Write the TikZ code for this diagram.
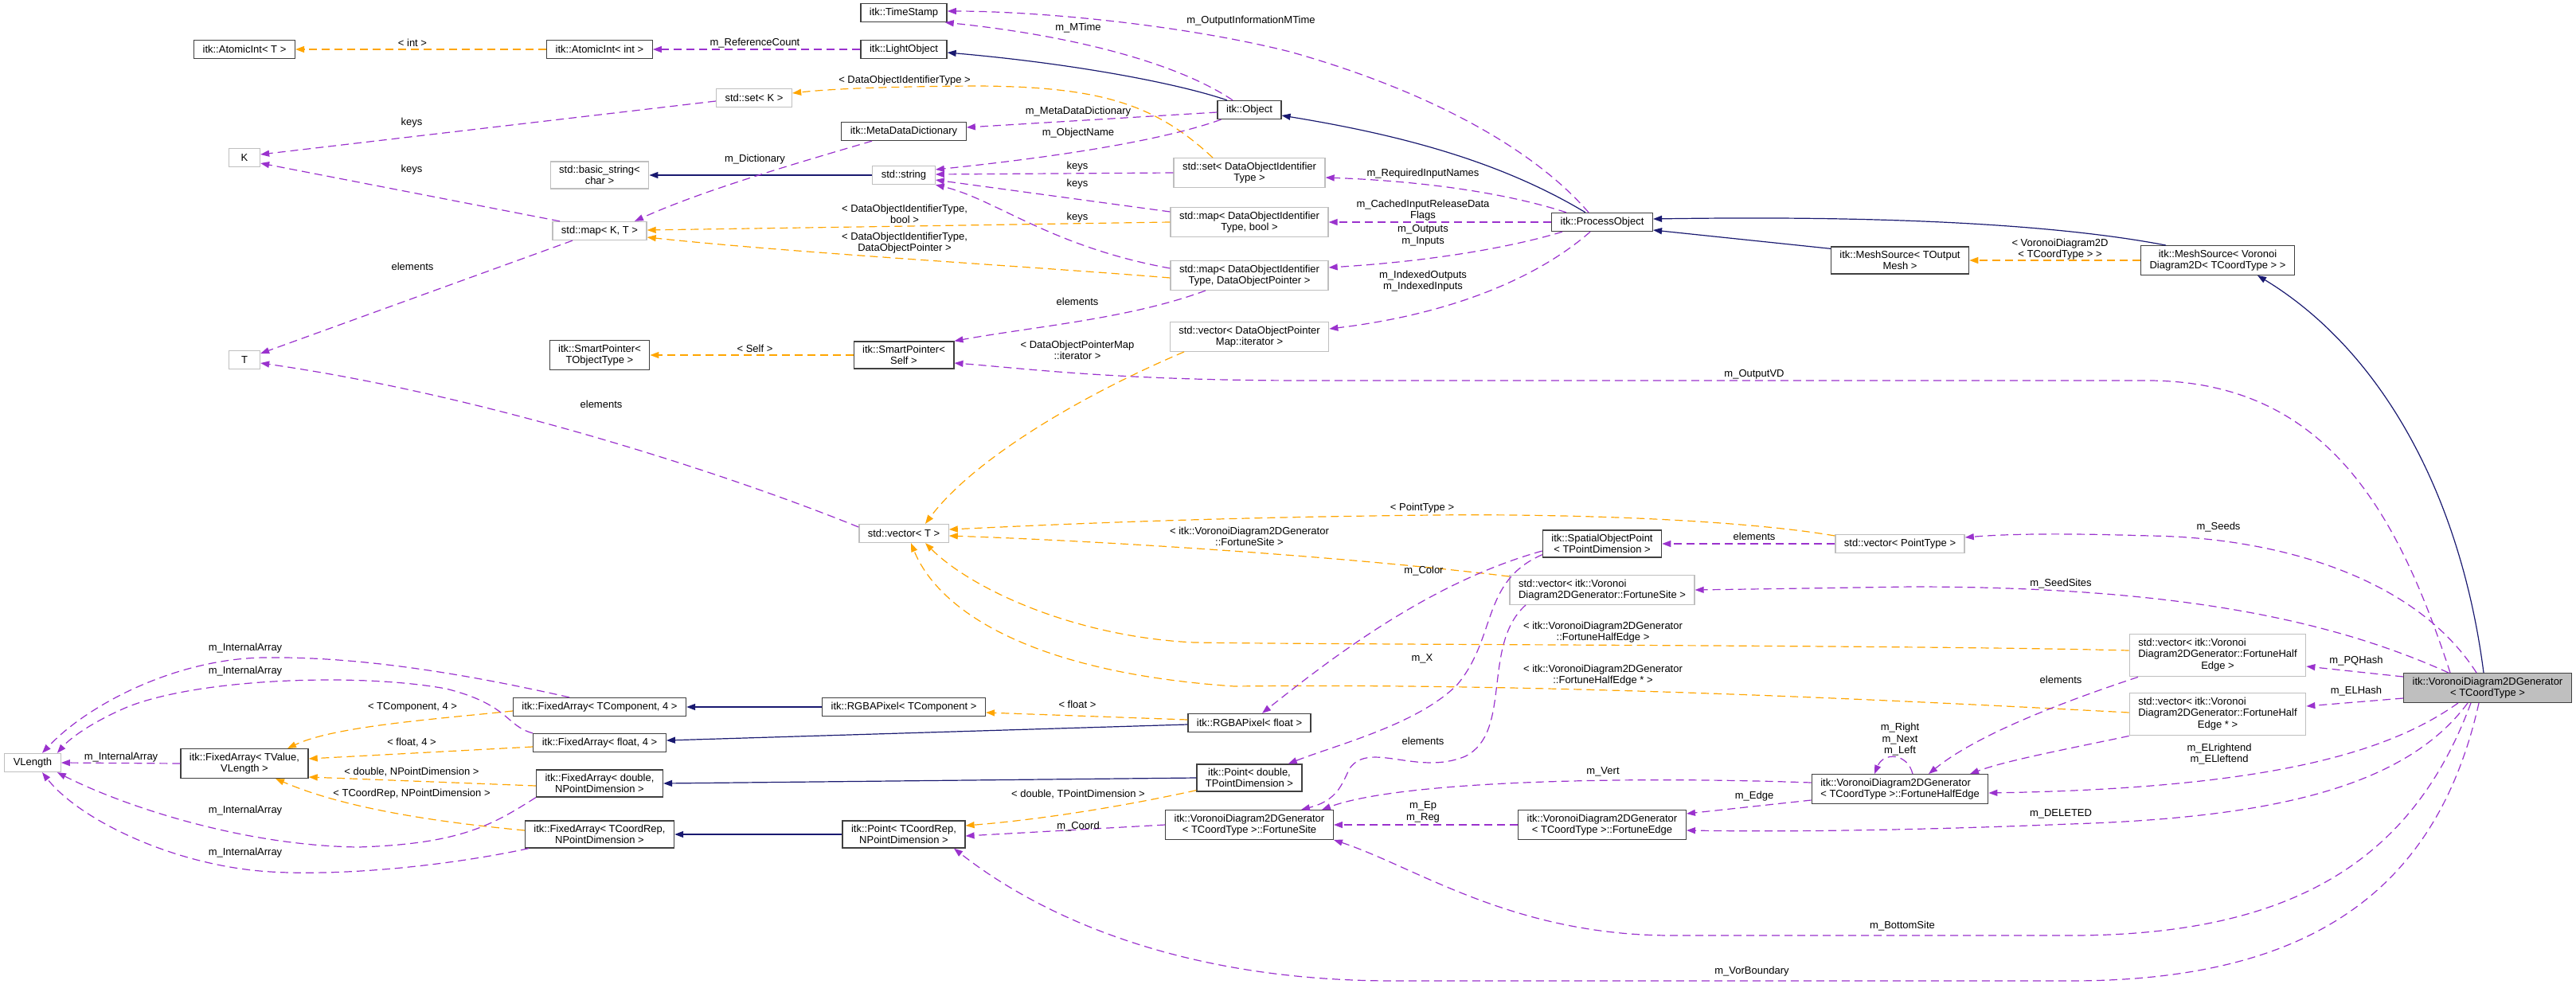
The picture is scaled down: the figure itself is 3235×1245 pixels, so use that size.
\documentclass[tikz,border=0pt]{standalone}
\usepackage{fontspec}
\setmainfont{Liberation Sans}
\usepackage{xcolor}
\usetikzlibrary{arrows.meta}

\definecolor{inhblue}{HTML}{191970}
\definecolor{usepurple}{HTML}{9A32CD}
\definecolor{tplorange}{HTML}{FFA500}
\definecolor{extgray}{HTML}{BFBFBF}
\definecolor{boxline}{HTML}{404040}

\newcommand{\dxfont}{\fontsize{13}{14.5}\selectfont}

\tikzset{
    cls/.style={draw=boxline, line width=1.3pt, fill=white, font=\dxfont, align=center,
        inner xsep=11pt, inner ysep=5pt, minimum height=23pt},
    ext/.style={cls, draw=extgray},
    gen/.style={cls, fill=extgray},
    lbl/.style={font=\dxfont, align=center, inner sep=0pt},
    tip/.style={-{Triangle[length=11pt,width=8pt]}},
    inh/.style={tip, draw=inhblue, line width=1.2pt},
    use/.style={tip, draw=usepurple, line width=1.2pt, dash pattern=on 10pt off 6pt},
    tpl/.style={tip, draw=tplorange, line width=1.2pt, dash pattern=on 10pt off 6pt}
}

\begin{document}
\begin{tikzpicture}[x=1pt, y=-1pt]
    \useasboundingbox (0,0) rectangle (3235,1245);

    % Classes, upper part
    \node[cls] (timeStamp) at (1135,16) {itk::TimeStamp};
    \node[cls] (atomicT) at (307,62) {itk::AtomicInt< T >};
    \node[cls] (atomicInt) at (753,62) {itk::AtomicInt< int >};
    \node[cls] (lightObject) at (1135,62) {itk::LightObject};
    \node[ext] (setK) at (947,123) {std::set< K >};
    \node[cls] (object) at (1569,138) {itk::Object};
    \node[cls] (metaDict) at (1135,165) {itk::MetaDataDictionary};
    \node[ext, minimum width=39pt] (keyK) at (307,198) {K};
    \node[ext] (basicString) at (753,220) {std::basic\_string<\\char >};
    \node[ext] (stdString) at (1135,220) {std::string};
    \node[ext] (setId) at (1569,217) {std::set< DataObjectIdentifier\\Type >};
    \node[ext] (mapBool) at (1569,279) {std::map< DataObjectIdentifier\\Type, bool >};
    \node[cls] (processObject) at (2012,279) {itk::ProcessObject};
    \node[ext] (mapKT) at (753,290) {std::map< K, T >};
    \node[cls] (meshOut) at (2386,327) {itk::MeshSource< TOutput\\Mesh >};
    \node[cls] (meshVor) at (2785,327) {itk::MeshSource< Voronoi\\Diagram2D< TCoordType > >};
    \node[ext] (mapPtr) at (1569,346) {std::map< DataObjectIdentifier\\Type, DataObjectPointer >};
    \node[ext] (vecIter) at (1569,423) {std::vector< DataObjectPointer\\Map::iterator >};
    \node[cls] (smartObj) at (753,446) {itk::SmartPointer<\\TObjectType >};
    \node[cls] (smartSelf) at (1135,446) {itk::SmartPointer<\\Self >};
    \node[ext, minimum width=39pt] (elemT) at (307,452) {T};

    % Classes, lower part
    \node[ext] (vecT) at (1135,670) {std::vector< T >};
    \node[cls] (spatialPoint) at (2012,683) {itk::SpatialObjectPoint\\< TPointDimension >};
    \node[ext] (vecPoint) at (2386,683) {std::vector< PointType >};
    \node[ext, align=left] (vecSite) at (2012,741) {std::vector< itk::Voronoi\\Diagram2DGenerator::FortuneSite >};
    \node[ext] (vecHalf) at (2785,823) {\begin{tabular}{@{}l@{}}std::vector< itk::Voronoi\\Diagram2DGenerator::FortuneHalf\\\multicolumn{1}{@{}c@{}}{Edge >}\end{tabular}};
    \node[gen] (voronoiGen) at (3124,864) {itk::VoronoiDiagram2DGenerator\\< TCoordType >};
    \node[cls] (fixedComp) at (753,888) {itk::FixedArray< TComponent, 4 >};
    \node[cls] (rgbaComp) at (1135,888) {itk::RGBAPixel< TComponent >};
    \node[ext] (vecHalfPtr) at (2785,897) {\begin{tabular}{@{}l@{}}std::vector< itk::Voronoi\\Diagram2DGenerator::FortuneHalf\\\multicolumn{1}{@{}c@{}}{Edge * >}\end{tabular}};
    \node[cls] (rgbaFloat) at (1569,908) {itk::RGBAPixel< float >};
    \node[cls] (fixedFloat) at (753,933) {itk::FixedArray< float, 4 >};
    \node[ext] (vLength) at (41,958) {VLength};
    \node[cls] (fixedValue) at (307,959) {itk::FixedArray< TValue,\\VLength >};
    \node[cls] (pointDouble) at (1569,977) {itk::Point< double,\\TPointDimension >};
    \node[cls] (fixedDouble) at (753,984) {itk::FixedArray< double,\\NPointDimension >};
    \node[cls, align=left] (halfEdge) at (2386,991) {itk::VoronoiDiagram2DGenerator\\< TCoordType >::FortuneHalfEdge};
    \node[cls] (fortuneSite) at (1569,1036) {itk::VoronoiDiagram2DGenerator\\< TCoordType >::FortuneSite};
    \node[cls] (fortuneEdge) at (2012,1036) {itk::VoronoiDiagram2DGenerator\\< TCoordType >::FortuneEdge};
    \node[cls] (fixedCoord) at (753,1048) {itk::FixedArray< TCoordRep,\\NPointDimension >};
    \node[cls] (pointCoord) at (1135,1048) {itk::Point< TCoordRep,\\NPointDimension >};

    % Inheritance
    \draw[inh] ([xshift=-28pt]object.north) .. controls (1480,105) and (1350,80) .. ([yshift=-4pt]lightObject.east);
    \draw[inh] ([xshift=-21pt]processObject.north) .. controls (1880,200) and (1750,168) .. ([yshift=-7pt]object.east);
    \draw[inh] (stdString.west) -- (basicString.east);
    \draw[inh] ([yshift=-3pt]meshOut.north west) -- ([yshift=-10pt]processObject.east);
    \draw[inh] ([xshift=32pt]meshVor.north west) .. controls (2600,285) and (2400,270) .. ([yshift=4pt]processObject.east);
    \draw[inh] ([xshift=-5pt]voronoiGen.north) .. controls (3090,620) and (2990,440) .. ([xshift=50pt]meshVor.south);
    \draw[inh] (rgbaComp.west) -- (fixedComp.east);
    \draw[inh] ([yshift=-2pt]rgbaFloat.west) -- ([yshift=3pt]fixedFloat.east);
    \draw[inh] (pointDouble.west) -- (fixedDouble.east);
    \draw[inh] (pointCoord.west) -- (fixedCoord.east);

    % Template instances
    \draw[tpl] (atomicInt.west) -- (atomicT.east);
    \draw[tpl] ([xshift=-46pt]setId.north) .. controls (1450,130) and (1380,108) .. (1220,108)
        .. controls (1100,109) and (1040,112) .. ([yshift=6pt]setK.east);
    \draw[tpl] (mapBool.west) -- ([yshift=1pt]mapKT.east);
    \draw[tpl] ([yshift=-3pt]mapPtr.west) .. controls (1300,335) and (1000,318) .. ([yshift=-8pt]mapKT.east);
    \draw[tpl] (smartSelf.west) -- (smartObj.east);
    \draw[tpl] ([xshift=-82pt]vecIter.south) .. controls (1350,500) and (1220,580) .. ([xshift=27pt]vecT.north);
    \draw[tpl] (meshVor.west) -- (meshOut.east);
    \draw[tpl] ([yshift=10pt]vecPoint.west) .. controls (2200,655) and (2000,645) .. (1800,647)
        .. controls (1500,650) and (1300,660) .. ([yshift=5pt]vecT.east);
    \draw[tpl] ([yshift=-2pt]vecSite.north west) .. controls (1700,700) and (1400,680) .. ([yshift=-3pt]vecT.east);
    \draw[tpl] ([yshift=6pt]vecHalf.west) .. controls (2400,810) and (1700,810) .. (1500,807)
        .. controls (1350,800) and (1220,740) .. ([xshift=27pt]vecT.south);
    \draw[tpl] ([yshift=2pt]vecHalfPtr.west) .. controls (2300,875) and (1900,858) .. (1550,862)
        .. controls (1300,845) and (1180,770) .. ([xshift=9pt]vecT.south);
    \draw[tpl] ([yshift=4pt]rgbaFloat.west) -- ([yshift=-7pt]rgbaComp.east);
    \draw[tpl] ([yshift=-5pt]fixedComp.west) .. controls (550,903) and (420,912) .. ([xshift=54pt]fixedValue.north);
    \draw[tpl] ([yshift=-5pt]fixedFloat.west) -- ([yshift=6pt]fixedValue.east);
    \draw[tpl] ([yshift=-3pt]fixedDouble.west) -- ([yshift=-17pt]fixedValue.east);
    \draw[tpl] ([yshift=5pt]fixedCoord.west) .. controls (520,1030) and (420,1010) .. ([xshift=39pt]fixedValue.south);
    \draw[tpl] ([yshift=2pt]pointDouble.south west) .. controls (1400,1015) and (1300,1030) .. ([yshift=11pt]pointCoord.east);

    % Members, upper part
    \draw[use] (lightObject.west) -- (atomicInt.east);
    \draw[use] ([xshift=-21pt]object.north) .. controls (1480,80) and (1350,45) .. ([xshift=-3pt]timeStamp.south east);
    \draw[use] ([xshift=-17pt]processObject.north) .. controls (1920,180) and (1780,110) .. (1620,65)
        .. controls (1480,30) and (1300,14) .. ([yshift=2pt]timeStamp.east);
    \draw[use] ([yshift=-3pt]object.west) -- ([yshift=5pt]metaDict.east);
    \draw[use] ([xshift=5pt]object.south west) .. controls (1450,180) and (1300,200) .. ([yshift=7pt]stdString.east);
    \draw[use] ([xshift=-40pt]metaDict.south) .. controls (1000,205) and (880,240) .. ([xshift=44pt]mapKT.north);
    \draw[use] ([yshift=-4pt]setK.west) -- ([yshift=4pt]keyK.east);
    \draw[use] ([xshift=-50pt]mapKT.north) -- ([yshift=-7pt]keyK.east);
    \draw[use] ([xshift=-34pt]mapKT.south) -- ([yshift=8pt]elemT.east);
    \draw[use] ([yshift=8pt]vecT.west) .. controls (900,590) and (600,495) .. ([yshift=-4pt]elemT.east);
    \draw[use] (setId.west) -- ([yshift=1pt]stdString.east);
    \draw[use] ([yshift=13pt]mapBool.west) -- ([yshift=-6pt]stdString.east);
    \draw[use] ([yshift=9pt]mapPtr.west) .. controls (1320,310) and (1250,250) .. (stdString.south east);
    \draw[use] ([xshift=-45pt]processObject.north) .. controls (1900,245) and (1800,228) .. ([yshift=-6pt]setId.east);
    \draw[use] (processObject.west) -- (mapBool.east);
    \draw[use] ([xshift=-50pt]processObject.south) .. controls (1900,310) and (1800,328) .. ([yshift=10pt]mapPtr.east);
    \draw[use] ([xshift=-15pt]processObject.south) .. controls (1930,350) and (1820,395) .. ([yshift=10pt]vecIter.east);
    \draw[use] ([xshift=-55pt]mapPtr.south) .. controls (1420,400) and (1300,410) .. (smartSelf.north east);
    \draw[use] ([xshift=-47pt]voronoiGen.north) .. controls (3010,640) and (2920,480) .. (2700,478)
        -- (1640,478) .. controls (1400,478) and (1280,462) .. ([yshift=-10pt]smartSelf.east);

    % Members, lower part
    \draw[use] (fixedValue.west) -- (vLength.east);
    \draw[use] ([xshift=-38pt]fixedComp.north) .. controls (600,850) and (460,824) .. (330,826)
        .. controls (220,828) and (110,885) .. ([xshift=12pt]vLength.north);
    \draw[use] (fixedFloat.north west) .. controls (635,912) and (640,885) .. (560,865)
        .. controls (450,845) and (250,852) .. (160,888) .. controls (120,905) and (90,925) .. ([xshift=-5pt]vLength.north east);
    \draw[use] (fixedDouble.south west) .. controls (620,1035) and (580,1060) .. (450,1064)
        .. controls (300,1062) and (150,1010) .. ([xshift=-5pt]vLength.south east);
    \draw[use] ([xshift=5pt]fixedCoord.south west) .. controls (550,1090) and (420,1100) .. (340,1095)
        .. controls (220,1088) and (100,1030) .. ([xshift=12pt]vLength.south);
    \draw[use] ([xshift=-14pt]voronoiGen.north) .. controls (3030,720) and (2850,675) .. (2700,673)
        .. controls (2600,670) and (2530,670) .. ([yshift=8pt]vecPoint.east);
    \draw[use] (vecPoint.west) -- (spatialPoint.east);
    \draw[use] ([xshift=-49pt]voronoiGen.north) .. controls (2920,775) and (2720,737) .. (2400,737) -- (vecSite.east);
    \draw[use] ([yshift=-9pt]spatialPoint.west) .. controls (1800,730) and (1680,820) .. ([xshift=16pt]rgbaFloat.north);
    \draw[use] ([yshift=4pt]spatialPoint.south west) .. controls (1860,730) and (1880,800) .. (1830,860)
        .. controls (1780,910) and (1680,935) .. ([xshift=-18pt]pointDouble.north east);
    \draw[use] ([xshift=-96pt]vecSite.south) .. controls (1860,810) and (1900,920) .. (1840,950)
        .. controls (1780,975) and (1720,930) .. (1695,965) .. controls (1685,985) and (1680,1005) .. ([xshift=65pt]fortuneSite.north);
    \draw[use] ([yshift=14pt]voronoiGen.west) -- ([yshift=-14pt]vecHalf.east);
    \draw[use] ([yshift=-13pt]voronoiGen.west) -- ([yshift=10pt]vecHalfPtr.east);
    \draw[use] ([xshift=-100pt]vecHalf.south) .. controls (2580,885) and (2480,925) .. ([xshift=36pt]halfEdge.north);
    \draw[use] (vecHalfPtr.south west) .. controls (2600,940) and (2520,955) .. ([xshift=88pt]halfEdge.north);
    \draw[use] ([xshift=16pt]halfEdge.north) .. controls (2395,945) and (2365,945) .. ([xshift=-32pt]halfEdge.north);
    \draw[use] ([yshift=8pt]halfEdge.west) .. controls (2050,975) and (1760,980) .. ([xshift=91pt]fortuneSite.north);
    \draw[use] ([yshift=-14pt]halfEdge.west) -- ([yshift=14pt]fortuneEdge.east);
    \draw[use] (fortuneEdge.west) -- (fortuneSite.east);
    \draw[use] (fortuneSite.west) -- ([yshift=-2pt]pointCoord.east);
    \draw[use] ([xshift=-37pt]voronoiGen.south) .. controls (3000,945) and (2850,990) .. ([yshift=-5pt]halfEdge.east);
    \draw[use] ([xshift=-25pt]voronoiGen.south) .. controls (3020,990) and (2850,1027) .. (2600,1035)
        .. controls (2400,1043) and (2250,1045) .. ([yshift=-7pt]fortuneEdge.east);
    \draw[use] ([xshift=-21pt]voronoiGen.south) .. controls (3030,1080) and (2880,1175) .. (2600,1175)
        -- (2100,1175) .. controls (1900,1175) and (1780,1090) .. (fortuneSite.south east);
    \draw[use] ([xshift=-11pt]voronoiGen.south) .. controls (3060,1120) and (2900,1232) .. (2600,1232)
        -- (1750,1232) .. controls (1450,1232) and (1280,1130) .. ([xshift=63pt]pointCoord.south);

    % Edge labels
    \node[lbl] (lInt) at (518,54) {< int >};
    \node[lbl] (lRefCount) at (948,54) {m\_ReferenceCount};
    \node[lbl] (lMTime) at (1354,35) {m\_MTime};
    \node[lbl] (lOutInfo) at (1571,26) {m\_OutputInformationMTime};
    \node[lbl] (lSetK) at (1136,101) {< DataObjectIdentifierType >};
    \node[lbl] (lMetaDict) at (1354,140) {m\_MetaDataDictionary};
    \node[lbl] (lKeysSet) at (517,154) {keys};
    \node[lbl] (lObjName) at (1354,167) {m\_ObjectName};
    \node[lbl] (lDict) at (948,200) {m\_Dictionary};
    \node[lbl] (lKeysId) at (1353,209) {keys};
    \node[lbl] (lKeysMap) at (517,213) {keys};
    \node[lbl] (lRequired) at (1787,218) {m\_RequiredInputNames};
    \node[lbl] (lKeysBool) at (1353,231) {keys};
    \node[lbl] (lCached) at (1787,264) {m\_CachedInputReleaseData\\Flags};
    \node[lbl] (lMapBool) at (1136,269) {< DataObjectIdentifierType,\\bool >};
    \node[lbl] (lKeysPtr) at (1353,273) {keys};
    \node[lbl] (lOutputs) at (1787,296) {m\_Outputs\\m\_Inputs};
    \node[lbl] (lMapPtr) at (1136,305) {< DataObjectIdentifierType,\\DataObjectPointer >};
    \node[lbl] (lVoronoi) at (2587,313) {< VoronoiDiagram2D\\< TCoordType > >};
    \node[lbl] (lElemMap) at (518,335) {elements};
    \node[lbl] (lIndexed) at (1787,353) {m\_IndexedOutputs\\m\_IndexedInputs};
    \node[lbl] (lElemPtr) at (1353,379) {elements};
    \node[lbl] (lSelf) at (948,438) {< Self >};
    \node[lbl] (lIter) at (1353,440) {< DataObjectPointerMap\\::iterator >};
    \node[lbl] (lOutputVD) at (2203,470) {m\_OutputVD};
    \node[lbl] (lElemVec) at (755,508) {elements};
    \node[lbl] (lPointType) at (1786,638) {< PointType >};
    \node[lbl] (lSeeds) at (2786,662) {m\_Seeds};
    \node[lbl] (lSite) at (1569,674) {< itk::VoronoiDiagram2DGenerator\\::FortuneSite >};
    \node[lbl] (lElemPoint) at (2203,674) {elements};
    \node[lbl] (lColor) at (1788,717) {m\_Color};
    \node[lbl] (lSeedSites) at (2588,733) {m\_SeedSites};
    \node[lbl] (lHalf) at (2013,794) {< itk::VoronoiDiagram2DGenerator\\::FortuneHalfEdge >};
    \node[lbl] (lIntComp) at (308,814) {m\_InternalArray};
    \node[lbl] (lX) at (1786,827) {m\_X};
    \node[lbl] (lPQHash) at (2959,830) {m\_PQHash};
    \node[lbl] (lHalfPtr) at (2013,848) {< itk::VoronoiDiagram2DGenerator\\::FortuneHalfEdge * >};
    \node[lbl] (lIntFloat) at (308,843) {m\_InternalArray};
    \node[lbl] (lElemHalf) at (2588,854) {elements};
    \node[lbl] (lELHash) at (2959,868) {m\_ELHash};
    \node[lbl] (lTComp) at (518,888) {< TComponent, 4 >};
    \node[lbl] (lFloat) at (1353,885) {< float >};
    \node[lbl] (lLoop) at (2386,929) {m\_Right\\m\_Next\\m\_Left};
    \node[lbl] (lElemSite) at (1787,931) {elements};
    \node[lbl] (lFloat4) at (517,933) {< float, 4 >};
    \node[lbl] (lELend) at (2787,947) {m\_ELrightend\\m\_ELleftend};
    \node[lbl] (lIntValue) at (152,951) {m\_InternalArray};
    \node[lbl] (lDoubleNPD) at (517,970) {< double, NPointDimension >};
    \node[lbl] (lVert) at (2013,969) {m\_Vert};
    \node[lbl] (lDoubleTPD) at (1354,998) {< double, TPointDimension >};
    \node[lbl] (lCoordNPD) at (517,997) {< TCoordRep, NPointDimension >};
    \node[lbl] (lEdge) at (2203,1000) {m\_Edge};
    \node[lbl] (lIntDouble) at (308,1018) {m\_InternalArray};
    \node[lbl] (lEpReg) at (1787,1020) {m\_Ep\\m\_Reg};
    \node[lbl] (lDeleted) at (2588,1022) {m\_DELETED};
    \node[lbl] (lCoord) at (1354,1038) {m\_Coord};
    \node[lbl] (lIntCoord) at (308,1071) {m\_InternalArray};
    \node[lbl] (lBottom) at (2389,1163) {m\_BottomSite};
    \node[lbl] (lVorBound) at (2200,1220) {m\_VorBoundary};
\end{tikzpicture}
\end{document}
